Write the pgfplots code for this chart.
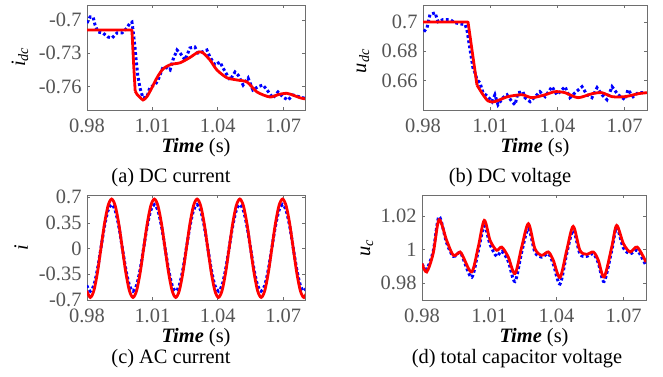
\documentclass[border=0pt]{standalone}
\usepackage{fontspec}
\setmainfont{Liberation Serif}
\usepackage{pgfplots}
\pgfplotsset{compat=1.18}
\usepackage{pgfplotstable}
\definecolor{tickgray}{RGB}{85,85,85}
\definecolor{boxgray}{RGB}{110,110,110}
\definecolor{myred}{RGB}{255,0,0}
\definecolor{myblue}{RGB}{0,0,255}
\newcommand{\bigf}{\fontsize{20.5}{24}\selectfont}

% ---------- (a) DC current ----------
\pgfplotstableread{
t v
0.9800 -0.709
1.0006 -0.709
1.0014 -0.740
1.0021 -0.764
}\redAstep
\pgfplotstableread{
t v
1.0021 -0.764
1.0030 -0.767
1.0040 -0.769
1.0057 -0.772
1.0075 -0.769
1.0095 -0.762
1.0121 -0.752
1.0149 -0.744
1.0185 -0.740
1.0227 -0.7385
1.0270 -0.734
1.0305 -0.7295
1.0328 -0.7290
1.0364 -0.736
1.0396 -0.745
1.0442 -0.752
1.0488 -0.754
1.0534 -0.7558
1.0580 -0.7648
1.0639 -0.7693
1.0680 -0.7670
1.0717 -0.7660
1.0750 -0.7680
1.0777 -0.7700
1.0800 -0.7710
}\redA
\pgfplotstableread{
t v
0.9800 -0.7027
0.9814 -0.6973
0.9828 -0.6973
0.9837 -0.7045
0.9850 -0.7108
0.9873 -0.7117
0.9896 -0.7153
0.9915 -0.7162
0.9938 -0.7117
0.9961 -0.7117
0.9983 -0.7072
0.9997 -0.7027
1.0006 -0.7018
1.0011 -0.7090
1.0020 -0.7243
1.0024 -0.7333
1.0033 -0.7500
1.0043 -0.7612
1.0057 -0.7702
1.0075 -0.7693
1.0089 -0.7603
1.0112 -0.7585
1.0126 -0.7540
1.0149 -0.7423
1.0167 -0.7432
1.0181 -0.7450
1.0194 -0.7360
1.0213 -0.7270
1.0227 -0.7297
1.0250 -0.7360
1.0272 -0.7252
1.0295 -0.7243
1.0309 -0.7297
1.0328 -0.7288
1.0350 -0.7270
1.0364 -0.7333
1.0387 -0.7405
1.0410 -0.7378
1.0424 -0.7432
1.0456 -0.7540
1.0479 -0.7468
1.0493 -0.7495
1.0516 -0.7585
1.0539 -0.7522
1.0561 -0.7630
1.0585 -0.7600
1.0607 -0.7585
1.0626 -0.7630
1.0653 -0.7702
1.0676 -0.7648
1.0699 -0.7693
1.0722 -0.7720
1.0745 -0.7675
1.0777 -0.7693
1.0800 -0.7705
}\blueA

% ---------- (b) DC voltage ----------
\pgfplotstableread{
t v
0.9800 0.700
1.0001 0.700
1.0041 0.657
}\redBstep
\pgfplotstableread{
t v
1.0041 0.657
1.0068 0.6504
1.0090 0.6462
1.0113 0.6455
1.0135 0.6465
1.0179 0.6491
1.0242 0.6504
1.0287 0.6484
1.0345 0.6504
1.0389 0.6525
1.0434 0.6518
1.0492 0.6484
1.0554 0.6511
1.0599 0.6518
1.0644 0.6491
1.0702 0.6491
1.0760 0.6511
1.0800 0.6518
}\redB
\pgfplotstableread{
t v
0.9804 0.6934
0.9818 0.6961
0.9831 0.7050
0.9854 0.7063
0.9867 0.7002
0.9889 0.7016
0.9921 0.7016
0.9943 0.6995
0.9965 0.6988
0.9988 0.6982
0.9996 0.6948
1.0010 0.6811
1.0023 0.6688
1.0032 0.6654
1.0041 0.6607
1.0054 0.6586
1.0068 0.6518
1.0090 0.6491
1.0108 0.6457
1.0121 0.6504
1.0135 0.6436
1.0157 0.6484
1.0175 0.6504
1.0197 0.6457
1.0211 0.6436
1.0224 0.6518
1.0246 0.6525
1.0255 0.6484
1.0278 0.6457
1.0300 0.6491
1.0322 0.6525
1.0345 0.6491
1.0376 0.6559
1.0398 0.6504
1.0434 0.6559
1.0456 0.6484
1.0479 0.6518
1.0510 0.6559
1.0532 0.6504
1.0554 0.6484
1.0577 0.6552
1.0599 0.6504
1.0621 0.6470
1.0644 0.6559
1.0671 0.6504
1.0702 0.6470
1.0715 0.6539
1.0738 0.6491
1.0760 0.6518
1.0791 0.6518
}\blueB

% ---------- (c) AC current ----------
\pgfplotstableread{
t r b
0.97987 -0.575 -0.501
0.98150 -0.665 -0.580
0.98313 -0.575 -0.501
0.98477 -0.330 -0.285
0.98640 0.005 0.010
0.98803 0.340 0.305
0.98967 0.585 0.521
0.99130 0.675 0.600
0.99293 0.585 0.521
0.99457 0.340 0.305
0.99620 0.005 0.010
0.99783 -0.330 -0.285
0.99947 -0.575 -0.501
1.00110 -0.665 -0.580
1.00273 -0.575 -0.501
1.00437 -0.330 -0.285
1.00600 0.005 0.010
1.00763 0.340 0.305
1.00927 0.585 0.521
1.01090 0.675 0.600
1.01253 0.585 0.521
1.01417 0.340 0.305
1.01580 0.005 0.010
1.01743 -0.330 -0.285
1.01907 -0.575 -0.501
1.02070 -0.665 -0.580
1.02233 -0.575 -0.501
1.02397 -0.330 -0.285
1.02560 0.005 0.010
1.02723 0.340 0.305
1.02887 0.585 0.521
1.03050 0.675 0.600
1.03213 0.585 0.521
1.03377 0.340 0.305
1.03540 0.005 0.010
1.03703 -0.330 -0.285
1.03867 -0.575 -0.501
1.04030 -0.665 -0.580
1.04193 -0.575 -0.501
1.04357 -0.330 -0.285
1.04520 0.005 0.010
1.04683 0.340 0.305
1.04847 0.585 0.521
1.05010 0.675 0.600
1.05173 0.585 0.521
1.05337 0.340 0.305
1.05500 0.005 0.010
1.05663 -0.330 -0.285
1.05827 -0.575 -0.501
1.05990 -0.665 -0.580
1.06153 -0.575 -0.501
1.06317 -0.330 -0.285
1.06480 0.005 0.010
1.06643 0.340 0.305
1.06807 0.585 0.521
1.06970 0.675 0.600
1.07133 0.585 0.521
1.07297 0.340 0.305
1.07460 0.005 0.010
1.07623 -0.330 -0.285
1.07787 -0.575 -0.501
1.07950 -0.665 -0.580
1.08113 -0.575 -0.501
}\tabC

% ---------- (d) total capacitor voltage ----------
\pgfplotstableread{
t r b
0.9800 0.9917 0.9915
0.9821 0.9867 0.9885
0.9850 0.9978 0.9990
0.9876 1.0178 1.0196
0.9910 1.0055 1.0040
0.9940 0.9966 0.9960
0.9970 0.9986 0.9985
0.9984 0.9956 0.9945
1.0022 0.9867 0.9835
1.0051 1.0015 0.9990
1.0078 1.0174 1.0140
1.0104 1.0055 1.0030
1.0133 0.9996 0.9960
1.0156 1.0015 0.9990
1.0185 0.9956 0.9930
1.0215 0.9857 0.9810
1.0245 1.0015 0.9985
1.0275 1.0154 1.0125
1.0304 1.0006 0.9985
1.0334 0.9966 0.9955
1.0364 0.9986 0.9975
1.0386 0.9937 0.9915
1.0416 0.9834 0.9795
1.0446 0.9996 0.9975
1.0475 1.0138 1.0115
1.0505 0.9996 0.9975
1.0535 0.9972 0.9960
1.0565 0.9986 0.9975
1.0587 0.9937 0.9920
1.0613 0.9837 0.9810
1.0647 1.0015 0.9995
1.0669 1.0144 1.0130
1.0699 1.0036 1.0010
1.0729 0.9986 0.9975
1.0761 1.0015 0.9995
1.0800 0.9926 0.9905
}\tabD

\pgfplotsset{
  myax/.style={
    scale only axis, anchor=south west,
    xmin=0.98, xmax=1.08,
    xtick={0.98,1.01,1.04,1.07},
    xticklabels={0.98,1.01,1.04,1.07},
    tick align=inside, xtick pos=both, ytick pos=both,
    major tick length=3bp,
    axis line style={boxgray, line width=0.9bp},
    every tick/.style={boxgray, line width=0.8bp},
    tick label style={font=\bigf, text=tickgray},
    xticklabel style={yshift=-5bp},
    yticklabel style={xshift=-2bp},
    xlabel={\textbf{\textit{Time}} (s)},
    xlabel style={font=\bigf, at={(axis description cs:0.5,0)}, anchor=center, yshift=-38bp},
    clip=true,
  },
  redl/.style={myred, line width=2.8bp, smooth, no markers},
  redsharp/.style={myred, line width=2.8bp, sharp plot, no markers, line join=round},
  bluel/.style={myblue, line width=3bp, dash pattern=on 2.8bp off 2.4bp, no markers},
}

\begin{document}
\begin{tikzpicture}
\path[use as bounding box] (0bp,0bp) rectangle (663bp,377bp);

% (a)
\begin{axis}[myax, at={(87bp,267bp)}, width=218bp, height=105bp,
  ymin=-0.781, ymax=-0.6865,
  ytick={-0.76,-0.73,-0.7}, yticklabels={-0.76,-0.73,-0.7}]
\addplot[bluel] table[x=t,y=v] {\blueA};
\addplot[redsharp] table[x=t,y=v] {\redAstep};
\addplot[redl, tension=0.45] table[x=t,y=v] {\redA};
\end{axis}

% (b)
\begin{axis}[myax, at={(423bp,267bp)}, width=224bp, height=105bp,
  ymin=0.640, ymax=0.7116,
  ytick={0.66,0.68,0.7}, yticklabels={0.66,0.68,0.7}]
\addplot[bluel] table[x=t,y=v] {\blueB};
\addplot[redsharp] table[x=t,y=v] {\redBstep};
\addplot[redl, tension=0.45] table[x=t,y=v] {\redB};
\end{axis}

% (c)
\begin{axis}[myax, at={(87bp,77bp)}, width=218bp, height=105bp,
  ymin=-0.7, ymax=0.73,
  ytick={-0.7,-0.35,0,0.35,0.7}, yticklabels={-0.7,-0.35,0,0.35,0.7}]
\addplot[bluel, smooth] table[x=t,y=b] {\tabC};
\addplot[redl] table[x=t,y=r] {\tabC};
\end{axis}

% (d)
\begin{axis}[myax, at={(422bp,77bp)}, width=224bp, height=105bp,
  ymin=0.97, ymax=1.0325,
  ytick={0.98,1,1.02}, yticklabels={0.98,1,1.02}]
\addplot[bluel, smooth] table[x=t,y=b] {\tabD};
\addplot[redl] table[x=t,y=r] {\tabD};
\end{axis}

% y labels
\node[rotate=90, font=\bigf] at (20bp,320bp) {\textit{i}\textsubscript{\textit{dc}}};
\node[rotate=90, font=\bigf] at (363bp,316bp) {\textit{u}\textsubscript{\textit{dc}}};
\node[rotate=90, font=\bigf] at (21bp,129bp) {\textit{i}};
\node[rotate=90, font=\bigf] at (367bp,129bp) {\textit{u}\textsubscript{\textit{c}}};

% captions
\node[font=\bigf] at (171bp,199bp) {(a) DC current};
\node[font=\bigf] at (510bp,199bp) {(b) DC voltage};
\node[font=\bigf] at (171bp,18bp) {(c) AC current};
\node[font=\bigf] at (517bp,18bp) {(d) total capacitor voltage};
\end{tikzpicture}
\end{document}
